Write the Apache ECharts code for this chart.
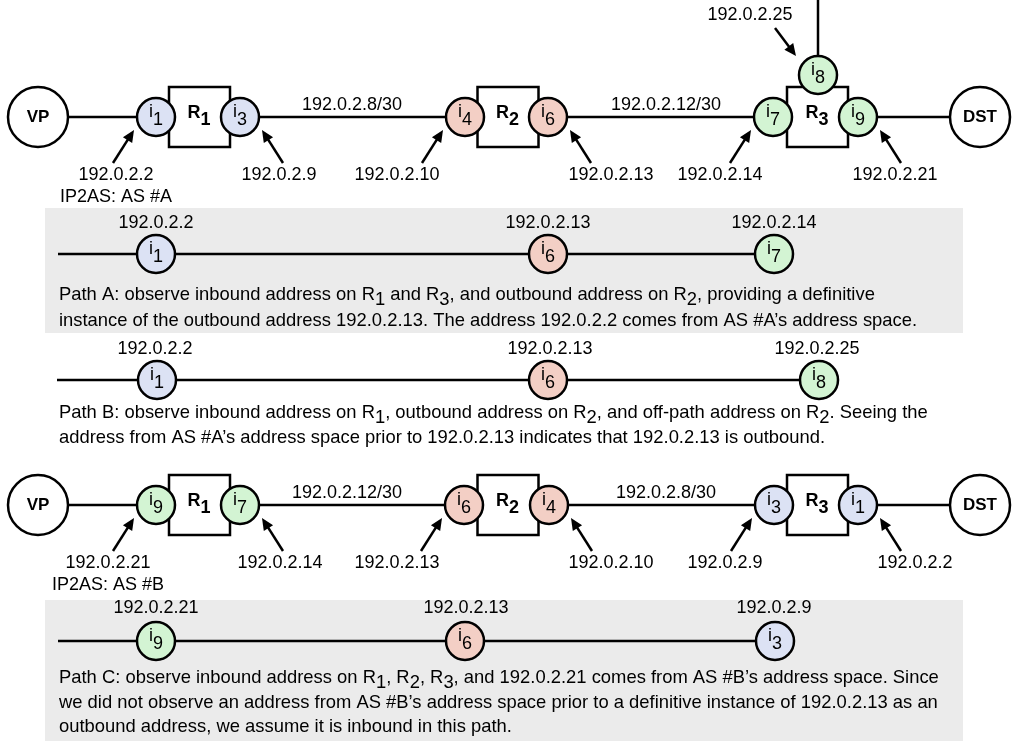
<!DOCTYPE html>
<html><head><meta charset="utf-8">
<script src="https://cdn.jsdelivr.net/npm/echarts@6/dist/echarts.min.js"></script>
<style>html,body{margin:0;padding:0;background:#fff}#c{width:1015px;height:741px}</style>
</head><body><div id="c"></div><script>
// ---------- data ----------
const grayBoxes = [[45,208,963,333],[45,600,963,741]];
const endpoints = [[38,117,'VP'],[980,117,'DST'],[38,505,'VP'],[980,505,'DST']];
const routers = [[199.5,117,1],[508,117,2],[817.5,117,3],[199.5,505,1],[508,505,2],[817.5,505,3]];
const topIfaces = [[156,117,1],[240,117,3],[465,117,4],[548,117,6],[773,117,7],[858,117,9],[818,75,8]];
const bottomIfaces = [[156,505,9],[240,505,7],[464,505,6],[549,505,4],[774,505,3],[858,505,1]];
const pathAIfaces = [[156,254,1],[548,254,6],[774,254,7]];
const pathBIfaces = [[157,380,1],[548,380,6],[819,380,8]];
const pathCIfaces = [[156,641,9],[465,641,6],[775,641,3]];
const links = [
  [68,117,137,117],[259,117,446,117],[567,117,754,117],[877,117,950,117],[818,56,818,0],
  [68,505,137,505],[259,505,445,505],[568,505,755,505],[877,505,950,505],
  [58,254,774,254],[57,380,819,380],[58,641,775,641]
];
const arrows = [
  [113,163,134,130],[283,163,262,130],[422,163,443,130],[591,163,570,130],[730,163,751,130],[901,163,880,130],[775,28,796,56],
  [113,551,134,518],[283,551,262,518],[421,551,442,518],[592,551,571,518],[731,551,752,518],[901,551,880,518]
];
const addrLabels = [
  [116,175,'192.0.2.2'],[116,197,'IP2AS: AS #A'],[279,175,'192.0.2.9'],[397,175,'192.0.2.10'],
  [611,175,'192.0.2.13'],[720,175,'192.0.2.14'],[895,175,'192.0.2.21'],[750,15,'192.0.2.25'],
  [108,563,'192.0.2.21'],[108,585,'IP2AS: AS #B'],[280,563,'192.0.2.14'],[397,563,'192.0.2.13'],
  [611,563,'192.0.2.10'],[725,563,'192.0.2.9'],[915,563,'192.0.2.2']
];
const subnetLabels = [[352,105,'192.0.2.8/30'],[666,105,'192.0.2.12/30'],[347,493,'192.0.2.12/30'],[666,493,'192.0.2.8/30']];
const pathAAddrs = [[156,223,'192.0.2.2'],[548,223,'192.0.2.13'],[774,223,'192.0.2.14']];
const pathBAddrs = [[155,349,'192.0.2.2'],[550,349,'192.0.2.13'],[817,349,'192.0.2.25']];
const pathCAddrs = [[156,608,'192.0.2.21'],[466,608,'192.0.2.13'],[774,608,'192.0.2.9']];
const descriptions = [
  [59,295,'Path A: observe inbound address on R{1} and R{3}, and outbound address on R{2}, providing a definitive'],
  [59,321,'instance of the outbound address 192.0.2.13. The address 192.0.2.2 comes from AS #A’s address space.'],
  [59,413,'Path B: observe inbound address on R{1}, outbound address on R{2}, and off-path address on R{2}. Seeing the'],
  [59,438,'address from AS #A’s address space prior to 192.0.2.13 indicates that 192.0.2.13 is outbound.'],
  [59,678,'Path C: observe inbound address on R{1}, R{2}, R{3}, and 192.0.2.21 comes from AS #B’s address space. Since'],
  [59,703,'we did not observe an address from AS #B’s address space prior to a definitive instance of 192.0.2.13 as an'],
  [59,727,'outbound address, we assume it is inbound in this path.']
];

// ---------- styles ----------
const FONT = '"Liberation Sans", Arial, Helvetica, sans-serif';
const LW = 2.5;
function ifaceColor(n){ return n <= 3 ? '#dce2f4' : (n <= 6 ? '#f3cfc5' : '#d3f4d3'); }

function mk(arr, z, render){
  return {type:'custom', coordinateSystem:'cartesian2d', z:z, silent:true, animation:false, clip:false,
    data: arr.map(d => [d[0], d[1]]),
    renderItem: (p, api) => render(arr[p.dataIndex], api)};
}
function txt(x, y, s, extra){
  return {type:'text', style:Object.assign({text:s, x:x, y:y, fill:'#000', fontFamily:FONT, fontSize:18,
    align:'center', verticalAlign:'middle'}, extra || {})};
}
function ifaceRender(d, api){
  const c = api.coord([d[0], d[1]]);
  return {type:'group', children:[
    {type:'circle', shape:{cx:c[0], cy:c[1], r:19}, style:{fill:ifaceColor(d[2]), stroke:'#000', lineWidth:LW}},
    txt(c[0]-3, c[1]-5, 'i', {align:'right'}),
    txt(c[0]-3, c[1]+3.5, String(d[2]), {align:'left'})
  ]};
}
function labelRender(d, api){
  const c = api.coord([d[0], d[1]]);
  return txt(c[0], c[1], d[2]);
}
function richLine(s){
  const parts = s.split(/\{(\d)\}/);
  let out = '';
  parts.forEach((p, i) => { if (p === '') return; out += (i % 2 ? '{s|' : '{n|') + p + '}'; });
  return out;
}

const series = [
  mk(grayBoxes, 1, (d, api) => {
    const a = api.coord([d[0], d[1]]), b = api.coord([d[2], d[3]]);
    return {type:'rect', shape:{x:a[0], y:a[1], width:b[0]-a[0], height:b[1]-a[1]}, style:{fill:'#ebebeb'}};
  }),
  mk(links, 2, (d, api) => {
    const a = api.coord([d[0], d[1]]), b = api.coord([d[2], d[3]]);
    return {type:'line', shape:{x1:a[0], y1:a[1], x2:b[0], y2:b[1]}, style:{stroke:'#000', lineWidth:LW}};
  }),
  mk(routers, 3, (d, api) => {
    const c = api.coord([d[0], d[1]]);
    return {type:'group', children:[
      {type:'rect', shape:{x:c[0]-30.5, y:c[1]-30, width:61, height:60}, style:{fill:'#fff', stroke:'#000', lineWidth:LW}},
      txt(c[0]+1, c[1]-4, 'R', {align:'right', fontWeight:'bold'}),
      txt(c[0]+1, c[1]+3.5, String(d[2]), {align:'left', fontWeight:'bold'})
    ]};
  }),
  mk(endpoints, 3, (d, api) => {
    const c = api.coord([d[0], d[1]]);
    return {type:'group', children:[
      {type:'circle', shape:{cx:c[0], cy:c[1], r:30}, style:{fill:'#fff', stroke:'#000', lineWidth:LW}},
      txt(c[0], c[1], d[2], {fontWeight:'bold', fontSize:17})
    ]};
  }),
  mk(topIfaces, 4, ifaceRender),
  mk(bottomIfaces, 4, ifaceRender),
  mk(pathAIfaces, 4, ifaceRender),
  mk(pathBIfaces, 4, ifaceRender),
  mk(pathCIfaces, 4, ifaceRender),
  mk(arrows, 5, (d, api) => {
    const t = api.coord([d[0], d[1]]), h = api.coord([d[2], d[3]]);
    const dx = h[0]-t[0], dy = h[1]-t[1], L = Math.hypot(dx, dy), ux = dx/L, uy = dy/L;
    const hl = 12, hw = 5.5, bx = h[0]-ux*hl, by = h[1]-uy*hl;
    return {type:'group', children:[
      {type:'line', shape:{x1:t[0], y1:t[1], x2:bx+ux*2, y2:by+uy*2}, style:{stroke:'#000', lineWidth:LW}},
      {type:'polygon', shape:{points:[[h[0],h[1]],[bx-uy*hw, by+ux*hw],[bx+uy*hw, by-ux*hw]]}, style:{fill:'#000'}}
    ]};
  }),
  mk(addrLabels, 6, labelRender),
  mk(subnetLabels, 6, labelRender),
  mk(pathAAddrs, 6, labelRender),
  mk(pathBAddrs, 6, labelRender),
  mk(pathCAddrs, 6, labelRender),
  mk(descriptions, 6, (d, api) => {
    const c = api.coord([d[0], d[1]]);
    return {type:'text', style:{text:richLine(d[2]), x:c[0], y:c[1], align:'left', verticalAlign:'middle',
      rich:{
        n:{fontFamily:FONT, fontSize:18.4, fill:'#000', lineHeight:24},
        s:{fontFamily:FONT, fontSize:18.4, fill:'#000', lineHeight:24, padding:[10,0,0,0]}
      }}};
  })
];

const chart = echarts.init(document.getElementById('c'), null, {renderer:'canvas'});
chart.setOption({
  animation:false,
  grid:{left:0, right:0, top:0, bottom:0, containLabel:false},
  xAxis:{type:'value', min:0, max:1015, show:false},
  yAxis:{type:'value', min:0, max:741, inverse:true, show:false},
  series: series
});
</script></body></html>
